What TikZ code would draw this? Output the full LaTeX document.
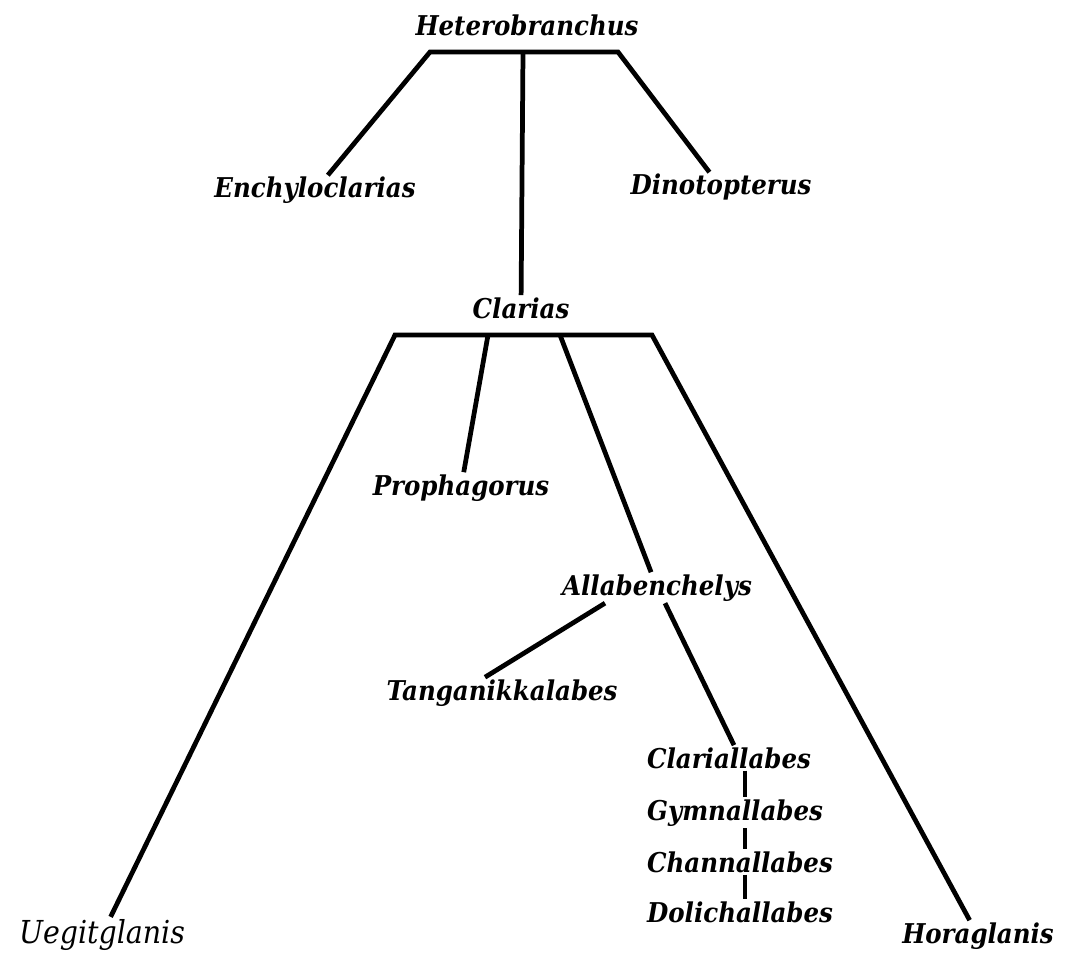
\documentclass[tikz,border=0pt]{standalone}
\usepackage{fontspec}
\setmainfont{DejaVu Serif Condensed}
\usepackage{tikz}
\usetikzlibrary{calc}

\begin{document}
\begin{tikzpicture}[x=0.02cm, y=-0.02cm,
  taxon/.style={inner sep=1pt, anchor=base, font=\fontsize{15.5}{18}\selectfont\bfseries\itshape},
  branch/.style={line width=2.7pt}]
  \useasboundingbox (0,0) rectangle (1071,959);
  % genera
  \node[taxon](het) at (527,36){Heterobranchus};
  \node[taxon](enc) at (315,198){Enchyloclarias};
  \node[taxon](din) at (721,195){Dinotopterus};
  \node[taxon](cla) at (521,318){Clarias};
  \node[taxon](pro) at (461,495){Prophagorus};
  \node[taxon](all) at (657,595){Allabenchelys};
  \node[taxon](tan) at (502,700){Tanganikkalabes};
  \node[taxon,anchor=base west](clb) at (645,768){Clariallabes};
  \node[taxon,anchor=base west](gym) at (645,820){Gymnallabes};
  \node[taxon,anchor=base west](cha) at (645,872){Channallabes};
  \node[taxon,anchor=base west](dol) at (645,922){Dolichallabes};
  \node[taxon,font=\fontsize{18}{20}\selectfont\itshape](ueg) at (102,943){Uegitglanis};
  \node[taxon](hor) at (978,943){Horaglanis};
  % bars
  \coordinate (hL) at (430,52);
  \coordinate (hM) at (523,52);
  \coordinate (hR) at (618,52);
  \coordinate (cL) at (395,335);
  \coordinate (cA) at (488,335);
  \coordinate (cB) at (560,335);
  \coordinate (cR) at (652,335);
  \coordinate (stem) at (745,0);
  \draw[branch] (enc) -- (hL) -- (hR) -- (din);
  \draw[branch] (hM) -- (cla);
  \draw[branch] (ueg) -- (cL) -- (cR) -- (hor);
  \draw[branch] (cA) -- (pro);
  \draw[branch] (cB) -- (all);
  \draw[branch] ($(all.south)+(-52,0)$) -- ($(tan.north)+(-17,0)$);
  \draw[branch] ($(all.south)+(8,0)$) -- ($(clb.north)+(5,0)$);
  \draw[branch] (clb.south -| stem) -- (gym.north -| stem);
  \draw[branch] (gym.south -| stem) -- (cha.north -| stem);
  \draw[branch] (cha.south -| stem) -- (dol.north -| stem);
\end{tikzpicture}
\end{document}
